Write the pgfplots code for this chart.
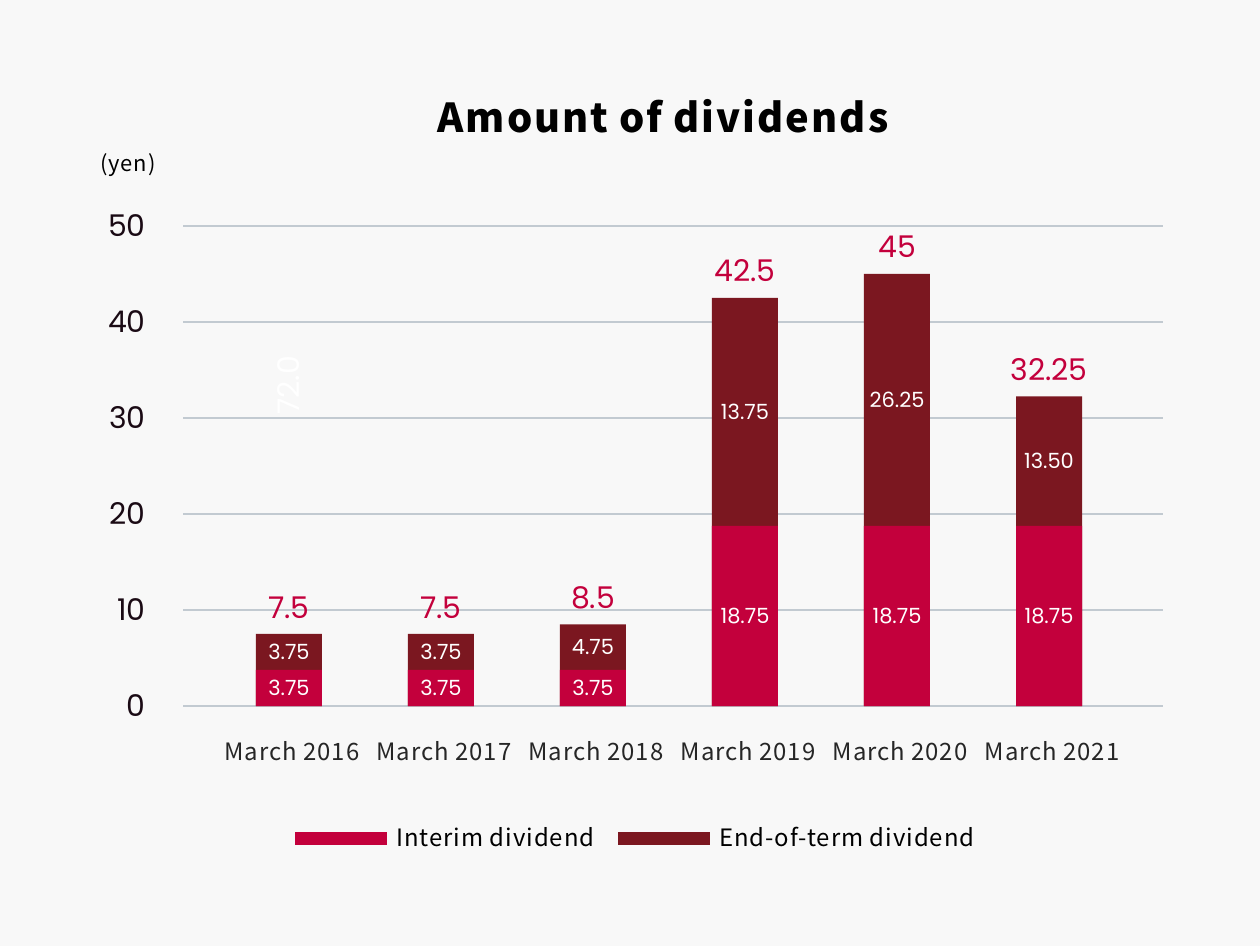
\documentclass[border=0pt]{standalone}
\usepackage{pgfplots}
\pgfplotsset{compat=1.18}
\usepackage{pgfplotstable}
\usepackage{fontspec}
\setmainfont{Noto Sans CJK JP}
\newfontfamily\pop{Poppins}
\newfontfamily\jpl[LetterSpace=4]{Noto Sans CJK JP}
\newfontfamily\jpt[LetterSpace=5]{Noto Sans CJK JP}

\definecolor{interim}{HTML}{C3003C}
\definecolor{endterm}{HTML}{7B1720}
\definecolor{gridc}{HTML}{C2CAD1}
\definecolor{bg}{HTML}{F8F8F8}
\definecolor{ticktxt}{HTML}{1A0A14}

% dividends per share (yen)
\pgfplotstableread{
x interim total endlab
0 3.75  7.5   3.75
1 3.75  7.5   3.75
2 3.75  8.5   4.75
3 18.75 42.5  13.75
4 18.75 45    26.25
5 18.75 32.25 13.50
}\divs

\begin{document}
\begin{tikzpicture}
\fill[bg] (0,0) rectangle (630bp,473bp);
\useasboundingbox (0,0) rectangle (630bp,473bp);
\begin{axis}[
    at={(91.5bp,120bp)}, anchor=south west,
    scale only axis, width=490bp, height=240bp,
    xmin=-0.697, xmax=5.75, ymin=0, ymax=50,
    ytick={0,10,...,50},
    xtick={0,...,5},
    xticklabels={March 2016,March 2017,March 2018,March 2019,March 2020,March 2021},
    ymajorgrids, grid style={gridc, line width=1bp},
    axis line style={draw=none},
    major tick length=0pt,
    ybar, bar width=33bp,
    clip=false,
    /pgf/number format/assume math mode=true,
    yticklabel style={font=\pop\fontsize{15}{15}\selectfont, text=ticktxt, anchor=east, inner sep=0pt, xshift=-18.5bp},
    xticklabel style={font=\jpl\fontsize{12}{12}\selectfont, text=black!85, anchor=base, yshift=-27bp, xshift=1.5bp},
    title={Amount of dividends},
    title style={font=\jpt\bfseries\fontsize{20}{20}\selectfont, at={(rel axis cs:0.4898,1.204)}, anchor=center},
    ylabel={(yen)},
    every axis y label/.style={at={(rel axis cs:-0.0561,1.126)}, anchor=center, font=\jpl\fontsize{11}{11}\selectfont},
    legend style={at={(0.4628,-0.275)}, anchor=center, draw=none, fill=none,
        legend columns=2, font=\jpl\fontsize{12}{12}\selectfont,
        /tikz/every odd column/.append style={column sep=3bp},
        /tikz/every even column/.append style={column sep=9.5bp}},
]
\addlegendimage{legend image code/.code={\fill[interim] (0bp,-3bp) rectangle (45.5bp,3bp);}}
\addlegendentry{Interim dividend}
\addlegendimage{legend image code/.code={\fill[endterm] (0bp,-3bp) rectangle (45.5bp,3bp);}}
\addlegendentry{End-of-term dividend}

\addplot[fill=endterm, draw=none, bar shift=0pt, forget plot] table[x=x, y=total] {\divs};
\addplot[fill=interim, draw=none, bar shift=0pt, forget plot] table[x=x, y=interim] {\divs};

% labels inside the bars
\addplot[draw=none, fill=none, bar shift=0pt, forget plot,
    nodes near coords, point meta=explicit symbolic,
    every node near coord/.append style={anchor=center, text=white, font=\pop\fontsize{10.5}{10.5}\selectfont}]
    table[x=x, y expr=\thisrow{interim}/2, meta=interim] {\divs};
\addplot[draw=none, fill=none, bar shift=0pt, forget plot,
    nodes near coords, point meta=explicit symbolic,
    every node near coord/.append style={anchor=center, text=white, font=\pop\fontsize{10.5}{10.5}\selectfont}]
    table[x=x, y expr=(\thisrow{interim}+\thisrow{total})/2, meta=endlab] {\divs};
% totals above the bars
\addplot[draw=none, fill=none, bar shift=0pt, forget plot,
    nodes near coords, point meta=explicit symbolic,
    every node near coord/.append style={anchor=base, inner sep=0pt, yshift=8bp, text=interim, font=\pop\fontsize{15}{15}\selectfont}]
    table[x=x, y=total, meta=total] {\divs};

\node[rotate=90, text=white, font=\pop\fontsize{15}{15}\selectfont] at (axis cs:0,33.4) {72.0};
\end{axis}
\end{tikzpicture}
\end{document}
